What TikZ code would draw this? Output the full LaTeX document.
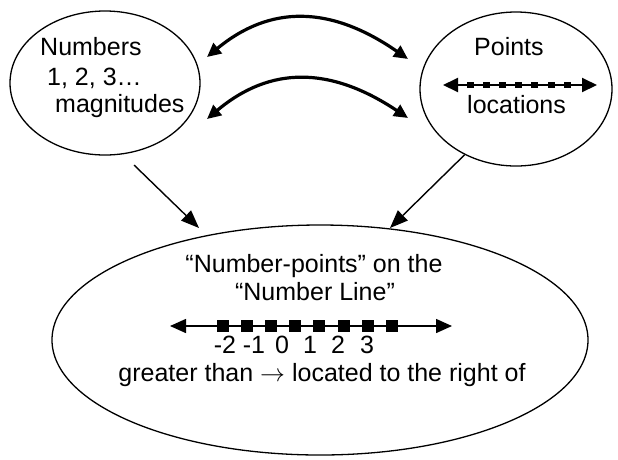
\documentclass[tikz,border=0pt]{standalone}
\usepackage{fontspec}
\setmainfont{Liberation Sans}
\usetikzlibrary{shapes.geometric,arrows.meta}
\begin{document}
\begin{tikzpicture}[x=1pt,y=-1pt,
  oval/.style={draw,ellipse,line width=1.3pt,inner sep=0pt},
  lbl/.style={inner sep=0pt,font=\fontsize{25}{30}\selectfont},
  thinarrow/.style={line width=1.4pt,-{Triangle[length=18pt,width=14pt]}},
  thickarrow/.style={line width=3.2pt,{Triangle[length=14pt,width=13pt]}-{Triangle[length=14pt,width=13pt]}},
  sq/.style={fill=black,inner sep=0pt,minimum width=12pt,minimum height=12pt},
  smallsq/.style={fill=black,inner sep=0pt,minimum width=7pt,minimum height=6pt}]
\useasboundingbox (0,0) rectangle (618,459);
% ellipses
\node[oval,minimum width=190pt,minimum height=144pt] (L) at (105,83) {};
\node[oval,minimum width=192pt,minimum height=154pt] (R) at (516,89) {};
\node[oval,minimum width=536pt,minimum height=230pt] (B) at (320,340) {};
% left texts
\node[lbl,anchor=base west] (t1) at (40,55) {Numbers};
\node[lbl,anchor=base west] (t2) at (47,85) {1, 2, 3…};
\node[lbl,anchor=base west] (t3) at (55,112) {magnitudes};
% right texts
\node[lbl,anchor=base west] (t4) at (474,55) {Points};
\node[lbl,anchor=base west] (t5) at (467,113) {locations};
% right small number line
\coordinate (ra) at (443,85);
\coordinate (rb) at (597,85);
\draw[line width=2pt,{Triangle[length=15pt,width=14pt]}-{Triangle[length=15pt,width=14pt]}] (ra) -- (rb);
\foreach \i in {0,...,6} {\node[smallsq] (rs\i) at (470+16.2*\i,85) {};}
% bottom texts
\node[lbl,anchor=base] (b1) at (314,272) {“Number-points” on the};
\node[lbl,anchor=base] (b2) at (315,300) {“Number Line”};
\node[lbl,anchor=base] (b3) at (322,381) {greater than $\rightarrow$ located to the right of};
% number line
\coordinate (na) at (170,326);
\coordinate (nb) at (452,326);
\draw[line width=1.5pt,{Triangle[length=16pt,width=14pt]}-{Triangle[length=16pt,width=14pt]}] (na) -- (nb);
\foreach \i in {0,...,7} {\node[sq] (ns\i) at (223+24.1*\i,326) {};}
\node[lbl,anchor=base] (n1) at (225,353) {-2};
\node[lbl,anchor=base] (n2) at (254,353) {-1};
\node[lbl,anchor=base] (n3) at (282,353) {0};
\node[lbl,anchor=base] (n4) at (310,353) {1};
\node[lbl,anchor=base] (n5) at (338,353) {2};
\node[lbl,anchor=base] (n6) at (367,353) {3};
% curved arrows
\coordinate (c1a) at (207,57);
\coordinate (c1b) at (408,59);
\coordinate (c2a) at (207,119);
\coordinate (c2b) at (408,118);
\draw[thickarrow] (c1a) .. controls (270,5) and (330,5) .. (c1b);
\draw[thickarrow] (c2a) .. controls (270,66) and (330,66) .. (c2b);
% straight arrows
\coordinate (s1a) at (134,165);
\coordinate (s1b) at (199,228);
\coordinate (s2b) at (390,228);
\draw[thinarrow] (s1a) -- (s1b);
\draw[thinarrow] (R.{232}) -- (s2b);
\end{tikzpicture}
\end{document}
